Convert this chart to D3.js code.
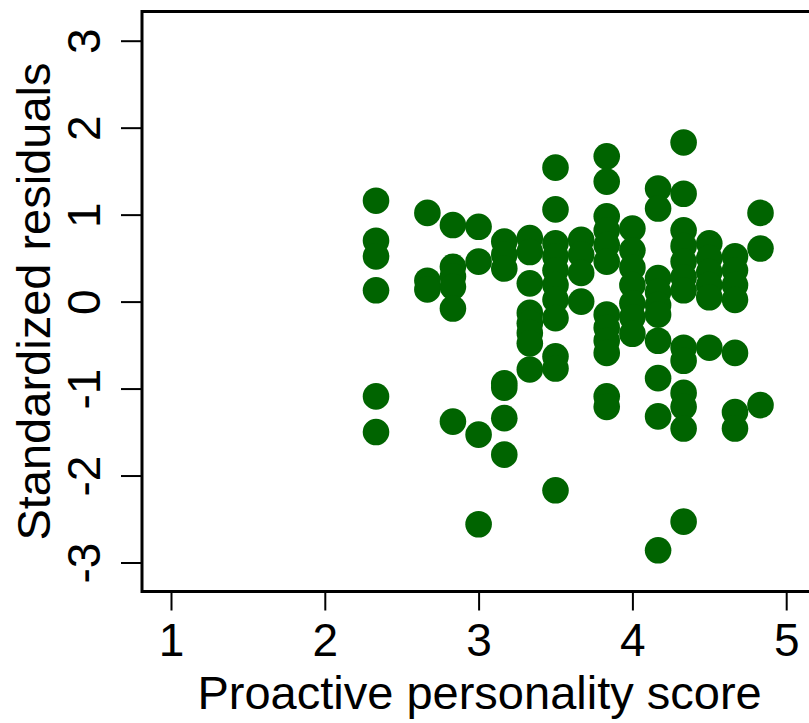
<!DOCTYPE html>
<html>
<head>
<meta charset="utf-8">
<script src="https://cdn.jsdelivr.net/npm/d3@7/dist/d3.min.js"></script>
<style>
  html, body { margin: 0; padding: 0; background: #ffffff; }
  svg { display: block; }
  text { font-family: "Liberation Sans", Arial, Helvetica, sans-serif; fill: #000; }
</style>
</head>
<body>
<svg id="chart" width="809" height="723"></svg>
<script>
// Proactive personality score levels (x) and the standardized residuals observed at each level
const scoreLevels = [2.333, 2.667, 2.833, 3.0, 3.167, 3.333, 3.5, 3.667, 3.833, 4.0, 4.167, 4.333, 4.5, 4.667, 4.833];
const residualsByLevel = [
  [1.16, 0.70, 0.52, 0.13, -1.09, -1.50],
  [1.02, 0.24, 0.14],
  [0.88, 0.40, 0.29, 0.17, -0.08, -1.38],
  [0.86, 0.46, -1.53, -2.56],
  [0.69, 0.54, 0.38, -0.94, -0.99, -1.34, -1.76],
  [0.73, 0.57, 0.21, -0.13, -0.25, -0.36, -0.48, -0.78],
  [1.54, 1.06, 0.67, 0.52, 0.36, 0.19, 0.02, -0.19, -0.63, -0.77, -2.17],
  [0.71, 0.54, 0.33, 0.00],
  [1.67, 1.38, 0.98, 0.82, 0.65, 0.46, -0.15, -0.30, -0.45, -0.59, -1.09, -1.21],
  [0.84, 0.59, 0.39, 0.19, -0.02, -0.18, -0.37],
  [1.30, 1.07, 0.27, 0.11, -0.04, -0.15, -0.45, -0.88, -1.32, -2.86],
  [1.83, 1.24, 0.82, 0.64, 0.46, 0.28, 0.13, -0.53, -0.68, -1.05, -1.21, -1.46, -2.53],
  [0.67, 0.50, 0.34, 0.19, 0.05, -0.53],
  [0.52, 0.36, 0.19, 0.02, -0.59, -1.27, -1.46],
  [1.02, 0.61, -1.19]
];
const xTicks = [1, 2, 3, 4, 5];
const yTicks = [-3, -2, -1, 0, 1, 2, 3];
const xTitle = "Proactive personality score";
const yTitle = "Standardized residuals";

const points = [];
scoreLevels.forEach((s, i) => residualsByLevel[i].forEach(r => points.push({ score: s, resid: r })));

const svg = d3.select("#chart");
const frame = { left: 142, top: 11.5, bottom: 591.5, right: 840 };

const x = d3.scaleLinear().domain([1, 5]).range([171, 786.2]);
const y = d3.scaleLinear().domain([-3, 3]).range([562.5, 40.7]);

const titleSize = 47;
const tickSize = 46;
// plain hyphen-minus for negative tick labels
const tickFmt = d => String(d);

// Markers
svg.append("g")
  .selectAll("circle")
  .data(points)
  .join("circle")
  .attr("cx", d => x(d.score))
  .attr("cy", d => y(d.resid))
  .attr("r", 13.3)
  .attr("fill", "#006400");

// Plot frame (open on the right, running past the edge)
svg.append("path")
  .attr("d", `M${frame.right},${frame.top} H${frame.left} V${frame.bottom} H${frame.right}`)
  .attr("fill", "none")
  .attr("stroke", "#000")
  .attr("stroke-width", 3);

// X axis
const gx = svg.append("g")
  .attr("transform", `translate(0,${frame.bottom})`)
  .call(d3.axisBottom(x).tickValues(xTicks).tickFormat(tickFmt).tickSize(19));
gx.select(".domain").remove();
gx.selectAll(".tick line").attr("stroke", "#000").attr("stroke-width", 2);
gx.selectAll(".tick text")
  .attr("y", 64.5)
  .attr("dy", null)
  .attr("font-size", tickSize)
  .attr("fill", "#000");

// Y axis with rotated labels
const gy = svg.append("g")
  .attr("transform", `translate(${frame.left},0)`)
  .call(d3.axisLeft(y).tickValues(yTicks).tickFormat(tickFmt).tickSize(21));
gy.select(".domain").remove();
gy.selectAll(".tick line").attr("stroke", "#000").attr("stroke-width", 2);
gy.selectAll(".tick text")
  .attr("x", null)
  .attr("dy", null)
  .attr("text-anchor", "middle")
  .attr("transform", "translate(-42,0) rotate(-90)")
  .attr("font-size", tickSize)
  .attr("fill", "#000");

// Axis titles
svg.append("text")
  .attr("x", (171 + 786.2) / 2 + 1)
  .attr("y", 709)
  .attr("text-anchor", "middle")
  .attr("font-size", titleSize)
  .text(xTitle);

svg.append("text")
  .attr("transform", `translate(50,${(frame.top + frame.bottom) / 2}) rotate(-90)`)
  .attr("text-anchor", "middle")
  .attr("font-size", titleSize)
  .text(yTitle);
</script>
</body>
</html>
